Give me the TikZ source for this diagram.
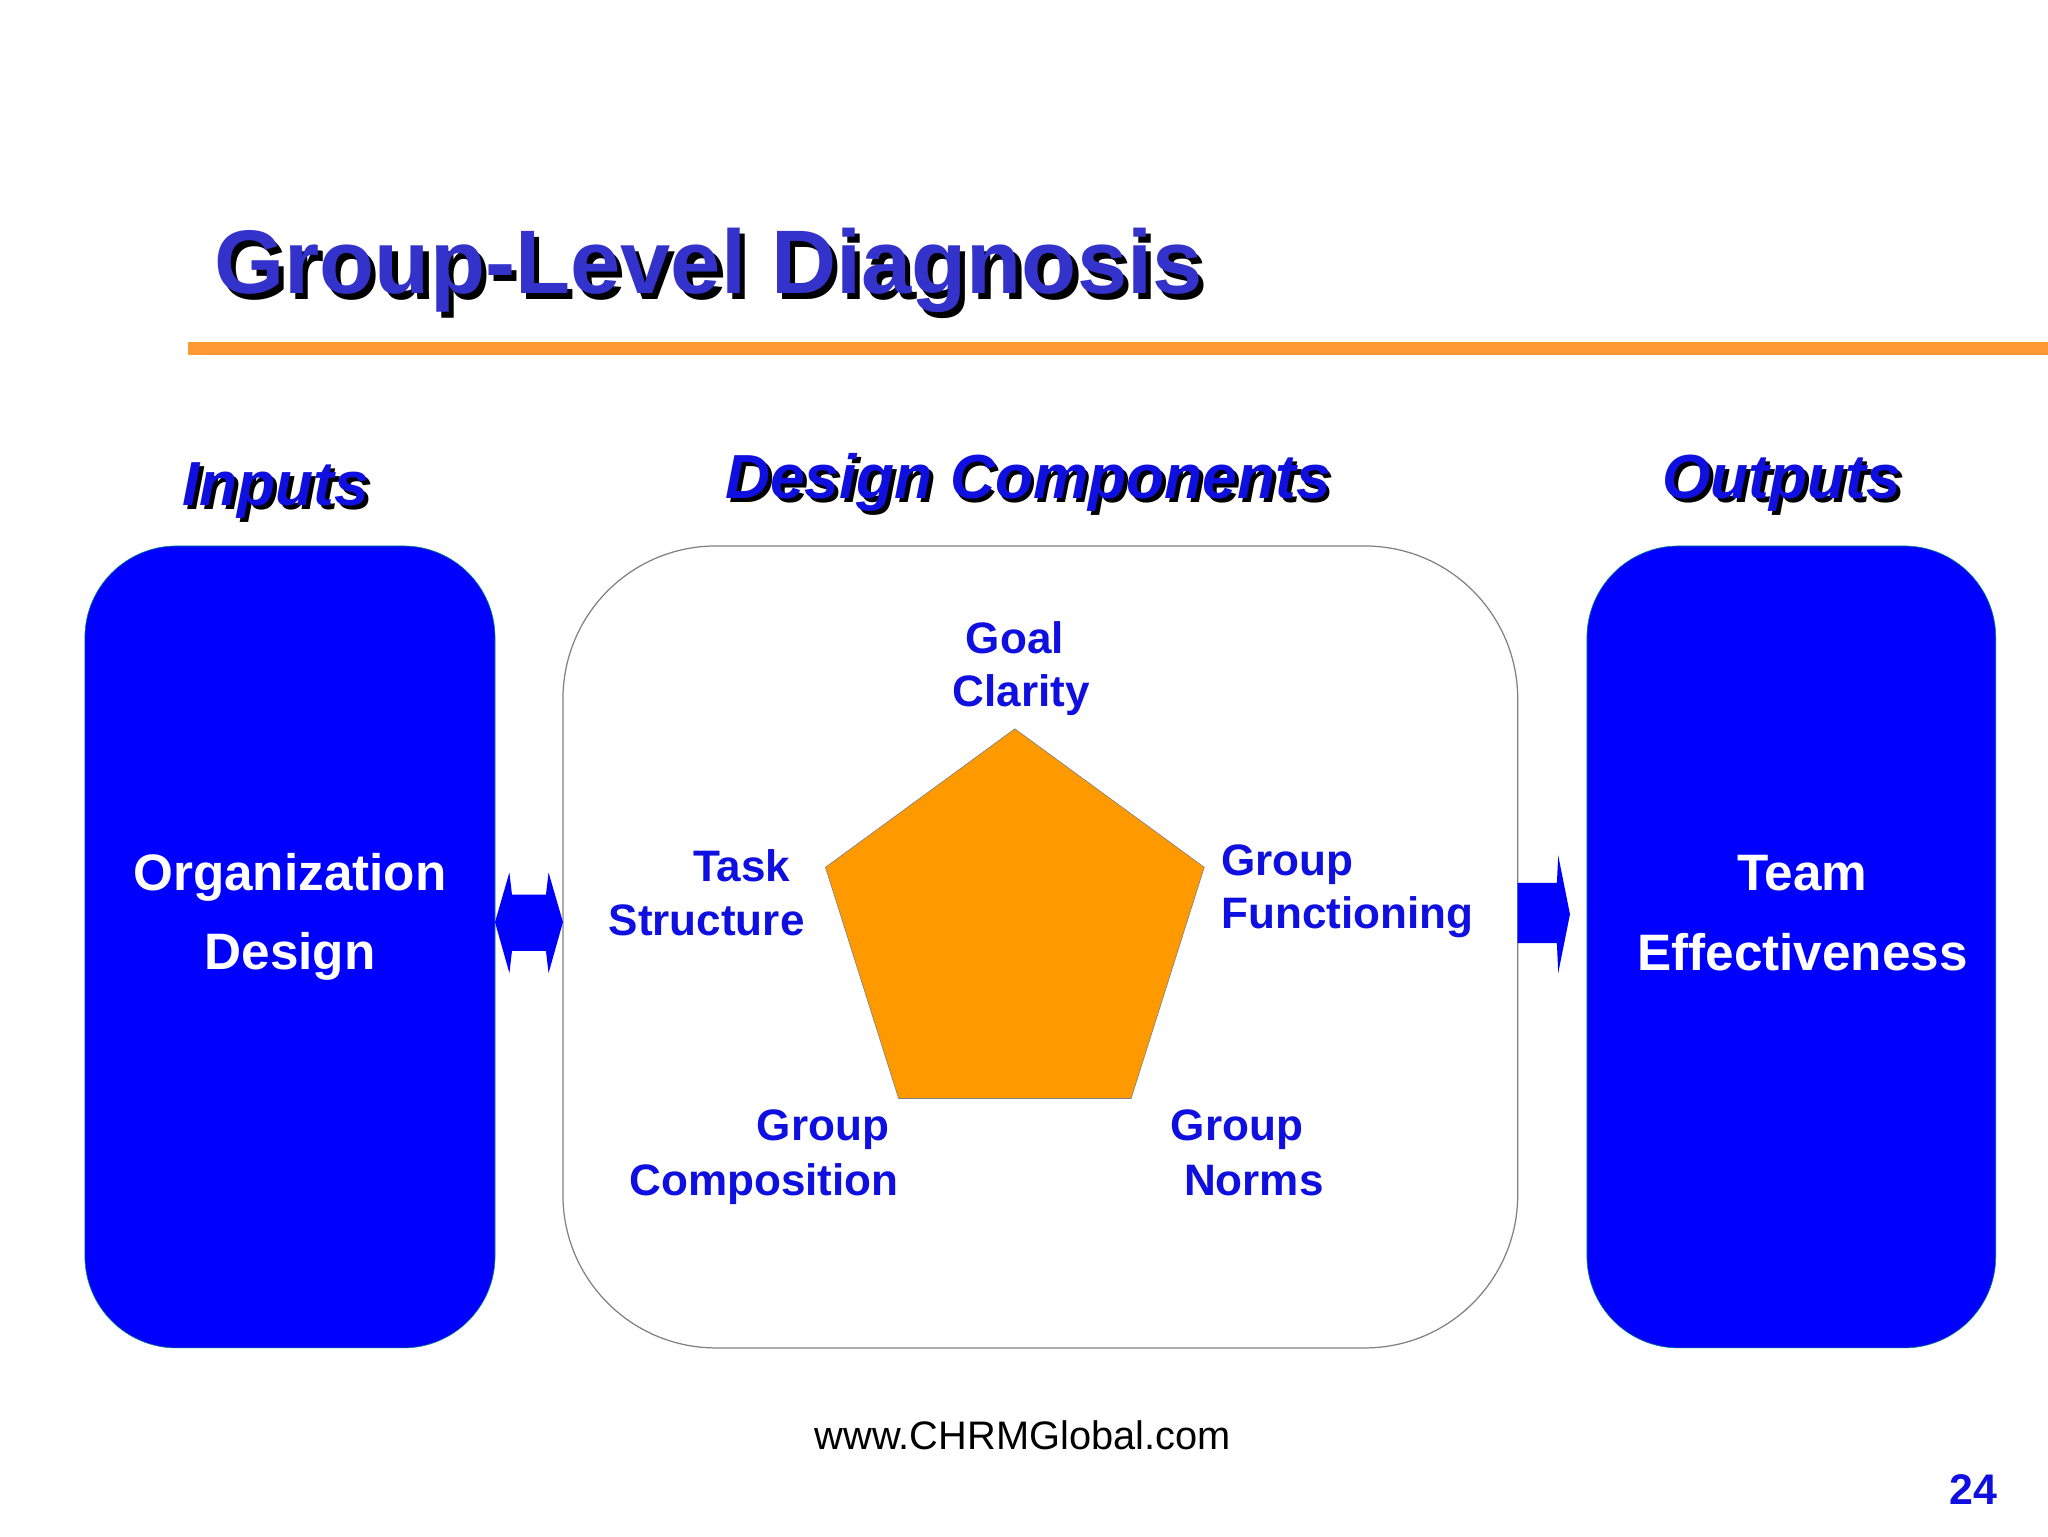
\documentclass[tikz,border=0pt]{standalone}
\usepackage{fontspec}
\setmainfont{Liberation Sans}
\begin{document}
\begin{tikzpicture}[x=0.3mm,y=-0.3mm,
  hd/.style={font=\bfseries\itshape\fontsize{40.7}{48}\selectfont},
  bx/.style={font=\bfseries\fontsize{33.5}{52}\selectfont,text=white,align=center},
  lb/.style={font=\bfseries\fontsize{28.8}{35}\selectfont,text=lbl},
]
\definecolor{ttl}{HTML}{3333CC}
\definecolor{lbl}{HTML}{0F0FE0}
\definecolor{orng}{HTML}{FF9933}
\definecolor{pent}{HTML}{FF9900}
\useasboundingbox (0,0) rectangle (1568,1176);
\fill[white] (0,0) rectangle (1568,1176);
% title
\node[anchor=base west,font=\bfseries\fontsize{59}{64}\selectfont,text=black] at (164,229) {Group-Level Diagnosis};
\node[anchor=base west,font=\bfseries\fontsize{59}{64}\selectfont,text=ttl] (title) at (160,225) {Group-Level Diagnosis};
\fill[orng] (144,262) rectangle (1568,272);
% headings
\foreach \t/\x/\y in {Inputs/211/387,Design Components/787/382,Outputs/1364/382}{
  \node[hd,anchor=base,text=black] at (\x+3,\y+3) {\t};
  \node[hd,anchor=base,text=lbl] at (\x,\y) {\t};
}
% boxes
\draw[fill=blue,draw=teal,thin,rounded corners=60] (65,418) rectangle (379,1032);
\draw[fill=white,draw=gray,thick,rounded corners=100] (431,418) rectangle (1162,1032);
\draw[fill=blue,draw=teal,thin,rounded corners=60] (1215,418) rectangle (1528,1032);
\node[bx] (org) at (222,702) {Organization\\Design};
\node[bx] (team) at (1380,699) {Team\\Effectiveness};
% arrows
\fill[blue] (379,706) -- (390,668) -- (392,685) -- (418,685) -- (420,668) -- (431,706) -- (420,745) -- (418,728) -- (392,728) -- (390,745) -- cycle;
\fill[blue] (1162,676) -- (1192,676) -- (1193,655) -- (1202,700) -- (1193,745) -- (1192,722) -- (1162,722) -- cycle;
% pentagon
\draw[fill=pent,draw=gray] (777,558) -- (922,664) -- (866,841) -- (688,841) -- (632,664) -- cycle;
% labels
\node[lb,anchor=base] at (777,500) {Goal};
\node[lb,anchor=base] at (782,541) {Clarity};
\node[lb,anchor=base] at (568,675) {Task};
\node[lb,anchor=base] at (541,716) {Structure};
\node[lb,anchor=base west] at (931,670) {Group};
\node[lb,anchor=base west] at (931,711) {Functioning};
\node[lb,anchor=base] at (630,873) {Group};
\node[lb,anchor=base] at (585,915) {Composition};
\node[lb,anchor=base] at (947,873) {Group};
\node[lb,anchor=base] at (960,915) {Norms};
% footer
\node[anchor=base,font=\fontsize{26}{30}\selectfont] at (783,1110) {www.CHRMGlobal.com};
\node[anchor=base,font=\bfseries\fontsize{28}{30}\selectfont,text=lbl] at (1511,1152) {24};
\end{tikzpicture}
\end{document}
